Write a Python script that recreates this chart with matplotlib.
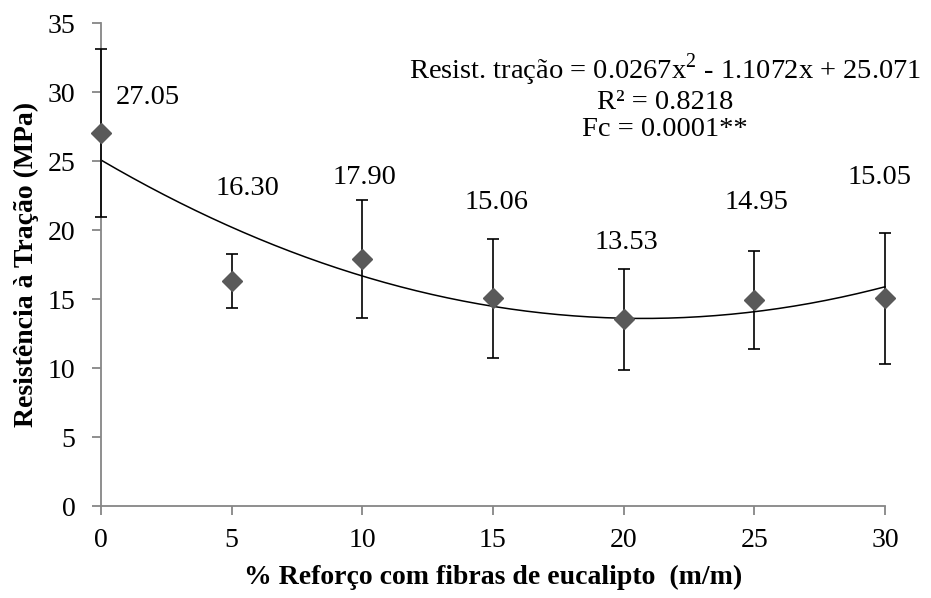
import numpy as np
import matplotlib
matplotlib.use("Agg")
import matplotlib.pyplot as plt

FONTE = 'Liberation Serif'
plt.rcParams['font.family'] = FONTE
plt.rcParams['mathtext.fontset'] = 'custom'
plt.rcParams['mathtext.rm'] = FONTE

# data
reforco = [0, 5, 10, 15, 20, 25, 30]
resist = [27.05, 16.30, 17.90, 15.06, 13.53, 14.95, 15.05]
erro = [6.1, 1.95, 4.3, 4.3, 3.65, 3.55, 4.75]
rotulos = ["27.05", "16.30", "17.90", "15.06", "13.53", "14.95", "15.05"]
# label positions (manually moved in the original)
rot_x = [1.8, 5.6, 10.1, 15.15, 20.1, 25.1, 29.8]
rot_y = [29.6, 23.0, 23.8, 22.0, 19.1, 22.0, 23.8]
# trendline coefficients
coef = [0.0267, -1.1072, 25.071]

fig = plt.figure(figsize=(9.31, 5.98), dpi=100)
ax = fig.add_axes([0.1085, 0.1538, 0.842, 0.8077])

xs = np.linspace(0, 30, 200)
ax.plot(xs, np.polyval(coef, xs), color='black', lw=1.1, zorder=2, clip_on=False)

eb = ax.errorbar(reforco, resist, yerr=erro, fmt='none', ecolor='black',
                 elinewidth=1.2, capsize=4.3, capthick=1.2, zorder=3)
for art in list(eb.lines[1]) + list(eb.lines[2]):
    art.set_clip_on(False)
ax.plot(reforco, resist, 'D', color='#595959', markersize=10, zorder=4, clip_on=False)

for x, y, t in zip(rot_x, rot_y, rotulos):
    ax.text(x, y, t, ha='center', va='center', fontsize=20.5, family=FONTE)

ax.text(0.714, 0.838, "Resist. tração = 0.0267x$^{2}$ - 1.1072x + 25.071\nR² = 0.8218\nFc = 0.0001**",
        transform=fig.transFigure, ha='center', va='center', fontsize=20.5,
        linespacing=1.12, family=FONTE)

ax.set_xlim(0, 30)
ax.set_ylim(0, 35)
ax.set_xticks(range(0, 31, 5))
ax.set_yticks(range(0, 36, 5))
for s in ['top', 'right']:
    ax.spines[s].set_visible(False)
for s in ['left', 'bottom']:
    ax.spines[s].set_color('#868686')
    ax.spines[s].set_linewidth(1.3)
ax.tick_params(direction='out', length=6.5, width=1.3, color='#868686',
               labelsize=20)
ax.tick_params(axis='y', pad=12)
ax.tick_params(axis='x', pad=9)
for lab in ax.get_xticklabels() + ax.get_yticklabels():
    lab.set_family(FONTE)

ax.set_xlabel("% Reforço com fibras de eucalipto  (m/m)", fontsize=20,
              fontweight='bold', labelpad=9, family=FONTE)
ax.set_ylabel("Resistência à Tração (MPa)", fontsize=20, fontweight='bold',
              labelpad=6, family=FONTE)

fig.savefig("out.png", dpi=100)
